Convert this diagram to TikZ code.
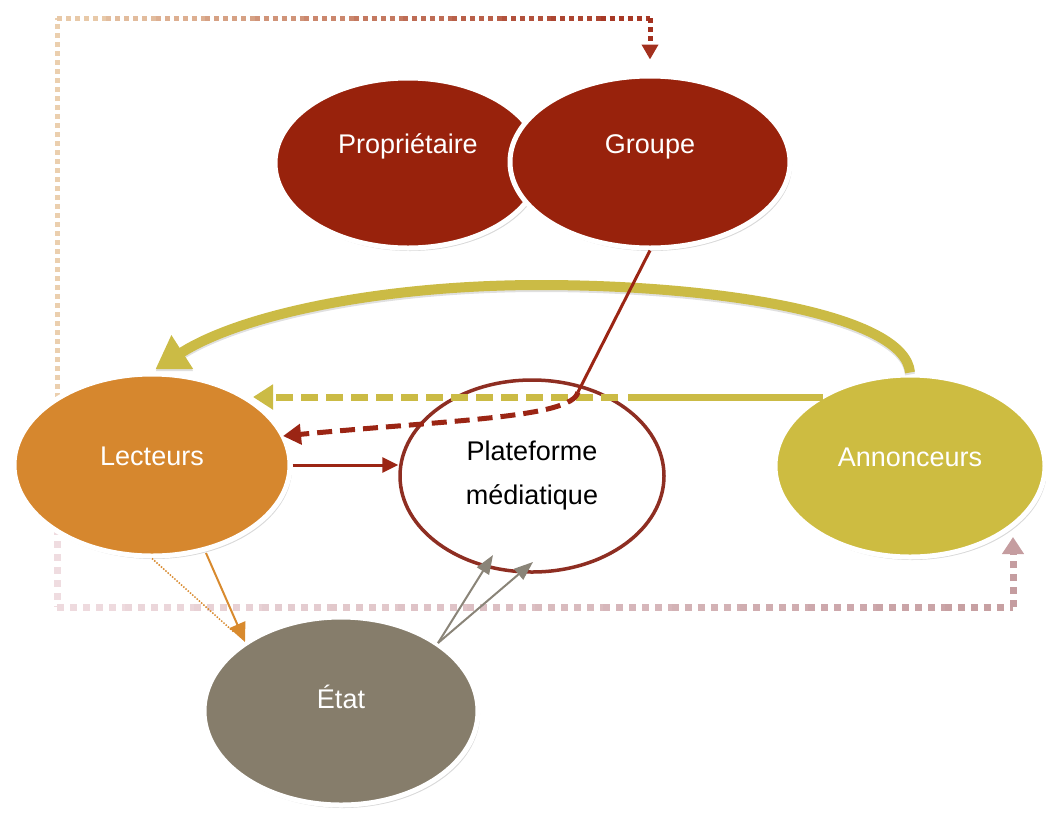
\documentclass[tikz,border=0pt]{standalone}
\usepackage{fontspec}
\setmainfont{Liberation Sans}
\usetikzlibrary{shapes.geometric,arrows.meta,shadows,calc}
\definecolor{propred}{HTML}{98220C}
\definecolor{lector}{HTML}{D6872E}
\definecolor{annyel}{HTML}{CDBC41}
\definecolor{etatgr}{HTML}{867D6B}
\definecolor{platred}{HTML}{8E2E22}
\definecolor{yline}{HTML}{CBBB45}
\definecolor{rline}{HTML}{9B2514}
\definecolor{tanc}{HTML}{EBCFAE}
\definecolor{topred}{HTML}{A3301E}
\definecolor{pinkl}{HTML}{EFDCE0}
\definecolor{pinkd}{HTML}{C59DA0}
\definecolor{oline}{HTML}{D88A2E}
\definecolor{gline}{HTML}{8A8478}
\pgfdeclarelayer{bg}
\pgfsetlayers{bg,main}
\begin{document}
\begin{tikzpicture}[x=1pt,y=-1pt,
  blob/.style={ellipse, draw=white, line width=5pt, inner sep=0pt, text=white,
    font=\fontsize{27}{32}\selectfont, text height=20pt, text depth=6pt,
    drop shadow={shadow xshift=2pt, shadow yshift=-3pt, opacity=0.3}},
  topdot/.style={line width=5pt, dash pattern=on 5pt off 4pt},
  botdot/.style={line width=7pt, dash pattern=on 7pt off 6pt},
  ycurve/.style={yline, line width=10pt, -{Triangle[length=32pt,width=38pt]}},
  ydash/.style={yline, line width=7pt},
  rdash/.style={rline, line width=5pt, dash pattern=on 15pt off 8pt, -{Triangle[length=18pt,width=20pt]}},
  rsolid/.style={rline, line width=3pt},
  oarrow/.style={oline, line width=2pt, -{Triangle[length=19pt,width=17pt]}},
  garrow/.style={gline, line width=2pt, -{Triangle[length=19pt,width=14pt]}},
]
\useasboundingbox (0,0) rectangle (1046,812);

% ellipses
\node[blob, fill=propred, minimum width=266pt, minimum height=170pt] (prop) at (408,163) {\raisebox{17pt}{Propriétaire}};
\node[blob, fill=propred, minimum width=280pt, minimum height=172pt] (grp) at (650,162) {\raisebox{16pt}{Groupe}};
\node[blob, fill=lector, minimum width=276pt, minimum height=182pt] (lect) at (152,465) {\raisebox{7pt}{Lecteurs}};
\node[blob, fill=annyel, minimum width=270pt, minimum height=182pt] (ann) at (910,466) {\raisebox{7pt}{Annonceurs}};
\node[blob, fill=etatgr, minimum width=274pt, minimum height=188pt] (etat) at (341,711) {\raisebox{10pt}{État}};
\node[ellipse, draw=platred, fill=white, line width=3.5pt, inner sep=0pt,
  minimum width=264pt, minimum height=192pt, align=center,
  font=\fontsize{27}{44}\selectfont] (plat) at (532,476) {Plateforme\\médiatique};

% dotted connectors (background)
\begin{pgfonlayer}{bg}
  % Lecteurs -> Groupe (top)
  \path (lect.center) ++(-95,-40) coordinate (t0);
  \coordinate (tc1) at (57,18);
  \coordinate (tc2) at (grp.north |- tc1);
  \draw[topdot, tanc] (t0) -- (tc1);
  \foreach \i in {0,...,11} {
    \pgfmathtruncatemacro\p{100*(\i+0.5)/12}
    \draw[topdot, topred!\p!tanc] ($(tc1)!\i/12!(tc2)$) -- ($(tc1)!{(\i+1)/12}!(tc2)$);
  }
  \draw[topdot, topred, -{Triangle[length=15pt,width=16pt]}, shorten >=14pt] (tc2) -- (grp.north);
  % Lecteurs -> Annonceurs (bottom)
  \path (lect.center) ++(-95,50) coordinate (b0);
  \coordinate (bc1) at (57,607);
  \path (ann.center) ++(103,71) coordinate (a2);
  \coordinate (bc2) at (a2 |- bc1);
  \draw[botdot, pinkl] (b0) -- (bc1);
  \foreach \i in {0,...,13} {
    \pgfmathtruncatemacro\p{100*(\i+0.5)/14}
    \draw[botdot, pinkd!\p!pinkl] ($(bc1)!\i/14!(bc2)$) -- ($(bc1)!{(\i+1)/14}!(bc2)$);
  }
  \draw[botdot, pinkd, -{Triangle[length=17pt,width=21pt]}] (bc2) -- (a2);
\end{pgfonlayer}

% Annonceurs -> Lecteurs (curve)
\draw[ycurve, shorten >=4pt,
  preaction={draw=black, opacity=0.12, line width=10pt, transform canvas={yshift=-2pt}}]
  (ann.north) .. controls (905,315) and (720,285) .. (540,285)
  .. controls (380,285) and (240,315) .. (lect.north);

% Annonceurs -> Lecteurs (dashed)
\path (ann.center) ++(-87,-69) coordinate (a1);
\coordinate (ym) at (628,397);
\path (lect.center) ++(90,-68) coordinate (l1);
\draw[ydash] (a1) -- (ym);
\draw[ydash, dash pattern=on 17pt off 8pt, -{Triangle[length=20pt,width=24pt]}, shorten >=11pt]
  ($(ym)+(-10,0)$) -- (l1);

% Groupe -> Lecteurs via Plateforme
\coordinate (r1) at (578,392);
\path (lect.center) ++(131,-29) coordinate (l2);
\draw[rsolid] (grp.south) -- (r1);
\draw[rdash] (r1) .. controls (572,418) and (450,420) .. (l2);

% Lecteurs -> Plateforme
\draw[rsolid, -{Triangle[length=16pt,width=15pt]}] (lect.east) -- (lect.east -| plat.west);

% Lecteurs -> Etat
\path (lect.center) ++(54,88) coordinate (l3);
\path (etat.center) ++(-96,-69) coordinate (e1);
\draw[oline, line width=1.5pt, dash pattern=on 1.5pt off 1.5pt, shorten >=14pt] (lect.south) -- (e1);
\draw[oarrow] (l3) -- (e1);

% Etat -> Plateforme
\path (etat.center) ++(97,-68) coordinate (e2);
\path (plat.center) ++(-39,79) coordinate (p1);
\path (plat.center) ++(1,86) coordinate (p2);
\draw[garrow] (e2) -- (p1);
\draw[garrow] (e2) -- (p2);
\end{tikzpicture}
\end{document}
